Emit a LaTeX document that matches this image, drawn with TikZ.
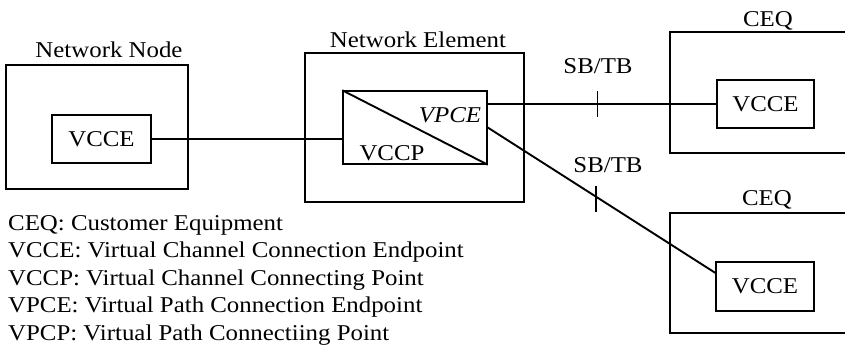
\documentclass[tikz,border=0pt]{standalone}
\usepackage{fontspec}
\setmainfont[FakeStretch=1.1]{Liberation Serif}
\usetikzlibrary{calc}
\begin{document}
\begin{tikzpicture}[x=1pt,y=-1pt,
  box/.style={draw,line width=1.4pt,rectangle,inner sep=0pt},
  txt/.style={inner sep=0pt,font=\fontsize{22.6}{27.5}\selectfont},
  lbl/.style={txt,anchor=base},
  wire/.style={line width=1.3pt},
  diagwire/.style={line width=1.9pt},
  tickmark/.style={line width=1.3pt}]
\useasboundingbox (0,0) rectangle (845,356);
\clip (0,0) rectangle (845,356);
% Network Node
\node[box,minimum width=182,minimum height=124] (nn) at (97,127) {};
\node[lbl] (nnlbl) at (109,57) {Network Node};
\node[box,txt,minimum width=99,minimum height=48] (nnv) at (101.5,139) {VCCE};
% Network Element
\node[box,minimum width=219,minimum height=149] (ne) at (414.5,127.5) {};
\node[lbl] (nelbl) at (418,47) {Network Element};
\node[box,minimum width=144,minimum height=73] (inner) at (415,127.5) {};
\draw[diagwire] (inner.north west) -- (inner.south east);
\node[lbl,font=\fontsize{22.6}{27.5}\selectfont\itshape] (vpce) at (450,122) {VPCE};
\node[lbl] (vccp) at (392,160) {VCCP};
% CEQ top
\node[box,minimum width=230,minimum height=121] (ceq1) at (785,92.5) {};
\node[lbl] (ceq1lbl) at (768,27) {CEQ};
\node[box,txt,minimum width=97,minimum height=48] (v1) at (765.5,104) {VCCE};
% CEQ bottom
\node[box,minimum width=230,minimum height=120] (ceq2) at (785,273) {};
\node[lbl] (ceq2lbl) at (767,205) {CEQ};
\node[box,txt,minimum width=98,minimum height=49] (v2) at (765,286.5) {VCCE};
% connectors
\draw[wire] (nnv.east) -- (nnv.east -| inner.west);
\draw[wire] (v1.west -| inner.east) -- (v1.west);
\coordinate (d1) at (inner.east);
\coordinate (d2) at ($(v2.north west)!0.23!(v2.south west)$);
\draw[diagwire] (d1) -- (d2);
% SB/TB reference points
\coordinate (t1) at ($(v1.west -| inner.east)!0.48!(v1.west)$);
\coordinate (t2) at ($(d1)!0.476!(d2)$);
\draw[tickmark] ($(t1)+(0,-13)$) -- ($(t1)+(0,13)$);
\draw[tickmark] ($(t2)+(0,-11)$) -- ($(t2)+(0,15)$);
\node[lbl] (sb1) at (598,73) {SB/TB};
\node[lbl] (sb2) at (608,172) {SB/TB};
% legend
\node[txt,anchor=base west,align=left] (legend) at (8,340) {CEQ: Customer Equipment\\
VCCE: Virtual Channel Connection Endpoint\\
VCCP: Virtual Channel Connecting Point\\
VPCE: Virtual Path Connection Endpoint\\
VPCP: Virtual Path Connectiing Point};
\end{tikzpicture}
\end{document}
